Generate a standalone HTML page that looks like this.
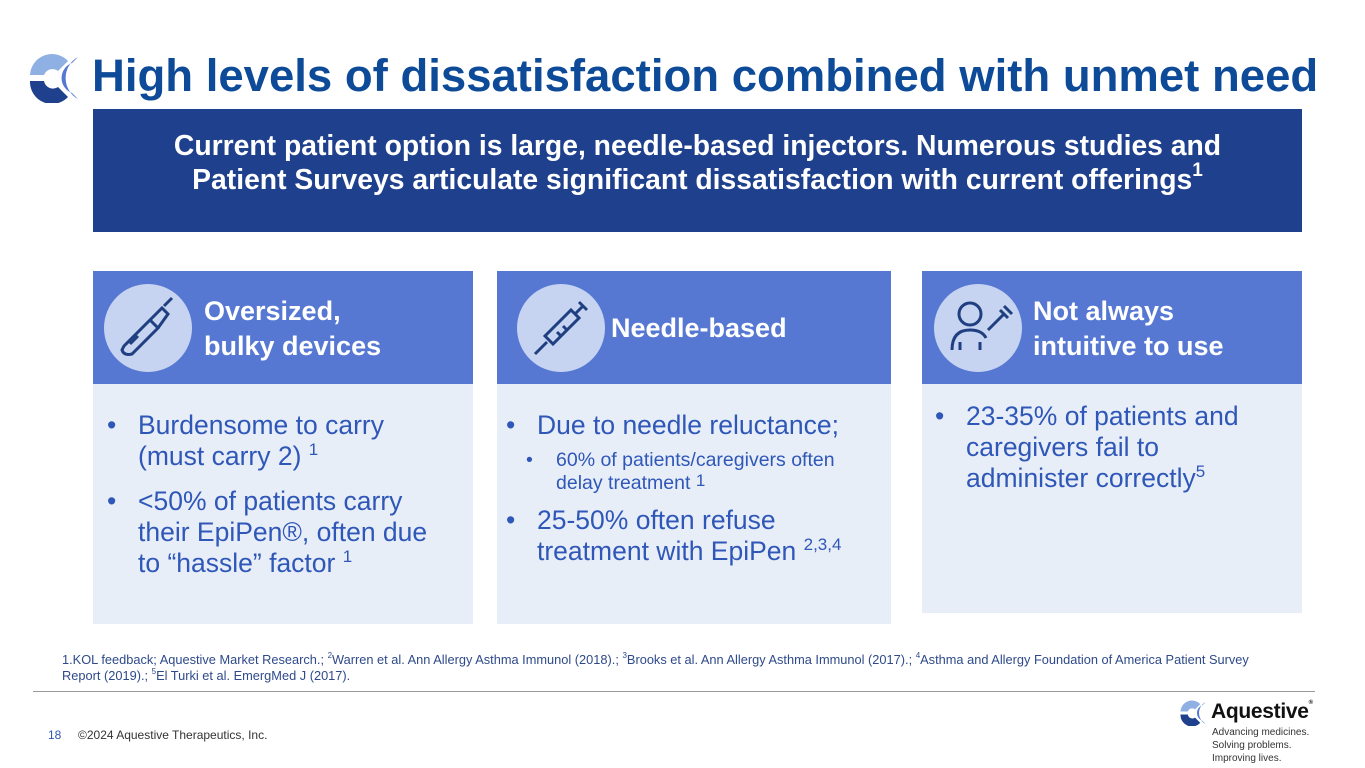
<!DOCTYPE html>
<html><head><meta charset="utf-8"><style>
*{margin:0;padding:0;box-sizing:border-box}
body{width:1365px;height:768px;background:#fff;position:relative;overflow:hidden;font-family:"Liberation Sans",Arial,sans-serif}
.abs{position:absolute}
#title{left:92px;top:50px;font-size:45.5px;font-weight:bold;color:#0d4a98;white-space:nowrap}
#banner{left:93px;top:109px;width:1209px;height:123px;background:#1f408d;color:#fff;font-weight:bold;font-size:28.3px;text-align:center;line-height:34px;padding-top:19px}
.head{background:#5678d3;height:113px;top:271px}
.body{background:#e8eef8;top:384px}
.circle{width:88px;height:88px;border-radius:50%;background:#c6d4f1;top:13px}
.ht{color:#fff;font-weight:bold;font-size:27px;line-height:35px}
ul{list-style:none;color:#2f57b8;font-size:26.5px;line-height:31px}
li{position:relative;padding-left:31px}
li:before{content:"•";position:absolute;left:0;top:0}
li.sub{font-size:19.5px;line-height:23px;padding-left:50px;margin:8px 0 10px}
li.sub:before{left:20px}
sup{font-size:17px;vertical-align:top;line-height:18px}
#foot{left:62px;top:652px;font-size:12.8px;color:#2e4a8a;line-height:16px;width:1260px}
#foot sup{font-size:8px;line-height:8px}
</style></head><body>
<svg class="abs" style="left:26px;top:53px" width="56" height="50" viewBox="0 0 56 50">
<path d="M4 22 A22 22 0 0 1 42 8 L32 18 A9 9 0 0 0 18 22 Z" fill="#8fb0e3"/>
<path d="M4 28 A22 22 0 0 0 42 44 L32 34 A9 9 0 0 1 18 28 Z" fill="#1f408d"/>
<path d="M52 4 A24 24 0 0 0 52 46 L46 40 A16 16 0 0 1 46 10 Z" fill="#5678d3"/>
</svg>
<div id="title" class="abs">High levels of dissatisfaction combined with unmet need</div>
<div id="banner" class="abs">Current patient option is large, needle-based injectors. Numerous studies and<br>Patient Surveys articulate significant dissatisfaction with current offerings<sup style="font-size:19px">1</sup></div>

<div class="abs head" style="left:93px;width:380px"></div>
<div class="abs circle" style="left:104px;top:284px"><svg width="88" height="88" viewBox="0 0 88 88" fill="none" stroke="#1f3f80" stroke-width="3"><path d="M20 62 L46 36 L54 44 L28 70 Q20 72 18 66 Z M46 36 L58 24 L64 30 L54 44 M60 22 L68 14"/><path d="M26 60 L34 52"/></svg></div>
<div class="abs ht" style="left:204px;top:294px">Oversized,<br>bulky devices</div>
<div class="abs body" style="left:93px;width:380px;height:240px"></div>
<ul class="abs" style="left:107px;top:410px;width:345px">
<li style="margin-bottom:14px">Burdensome to carry (must carry 2) <sup>1</sup></li>
<li>&lt;50% of patients carry their EpiPen®, often due to “hassle” factor <sup>1</sup></li></ul>

<div class="abs head" style="left:497px;width:394px"></div>
<div class="abs circle" style="left:517px;top:284px"><svg width="88" height="88" viewBox="0 0 88 88" fill="none" stroke="#1f3f80" stroke-width="3"><path d="M18 70 L30 58 M28 52 L36 60 L62 34 L54 26 Z M58 30 L66 22 M62 18 L70 26 M40 48 L44 52 M46 42 L50 46"/></svg></div>
<div class="abs ht" style="left:611px;top:311px">Needle-based</div>
<div class="abs body" style="left:497px;width:394px;height:240px"></div>
<ul class="abs" style="left:506px;top:410px;width:370px">
<li>Due to needle reluctance;</li>
<li class="sub" style="padding-right:10px">60% of patients/caregivers often delay treatment <sup style="font-size:17px">1</sup></li>
<li>25-50% often refuse treatment with EpiPen <sup>2,3,4</sup></li></ul>

<div class="abs head" style="left:922px;width:380px"></div>
<div class="abs circle" style="left:934px;top:284px"><svg width="88" height="88" viewBox="0 0 88 88" fill="none" stroke="#1f3f80" stroke-width="3"><circle cx="36" cy="30" r="11"/><path d="M18 66 Q18 46 36 46 Q48 46 52 54 M26 58 V66 M46 58 V66 M54 46 L70 30 M66 26 L74 34 M70 22 L78 30"/></svg></div>
<div class="abs ht" style="left:1033px;top:294px">Not always<br>intuitive to use</div>
<div class="abs body" style="left:922px;width:380px;height:229px"></div>
<ul class="abs" style="left:935px;top:401px;width:340px">
<li>23-35% of patients and caregivers fail to administer correctly<sup>5</sup></li></ul>

<div id="foot" class="abs">1.KOL feedback; Aquestive Market Research.; <sup>2</sup>Warren et al. Ann Allergy Asthma Immunol (2018).; <sup>3</sup>Brooks et al. Ann Allergy Asthma Immunol (2017).; <sup>4</sup>Asthma and Allergy Foundation of America Patient Survey<br>Report (2019).; <sup>5</sup>El Turki et al. EmergMed J (2017).</div>
<div class="abs" style="left:33px;top:691px;width:1282px;height:1px;background:#999"></div>
<div class="abs" style="left:48px;top:728px;font-size:12px;color:#2f57b8">18</div>
<div class="abs" style="left:78px;top:728px;font-size:12px;color:#333">©2024 Aquestive Therapeutics, Inc.</div>
<svg class="abs" style="left:1178px;top:700px" width="30" height="26" viewBox="0 0 56 50">
<path d="M4 22 A22 22 0 0 1 42 8 L32 18 A9 9 0 0 0 18 22 Z" fill="#8fb0e3"/>
<path d="M4 28 A22 22 0 0 0 42 44 L32 34 A9 9 0 0 1 18 28 Z" fill="#1f408d"/>
<path d="M52 4 A24 24 0 0 0 52 46 L46 40 A16 16 0 0 1 46 10 Z" fill="#5678d3"/>
</svg>
<div class="abs" style="left:1211px;top:700px;font-size:21px;font-weight:bold;color:#111;letter-spacing:-0.3px">Aquestive<span style="font-size:6px;vertical-align:top">®</span></div>
<div class="abs" style="left:1212px;top:726px;font-size:10px;line-height:13px;color:#333">Advancing medicines.<br>Solving problems.<br>Improving lives.</div>
</body></html>
